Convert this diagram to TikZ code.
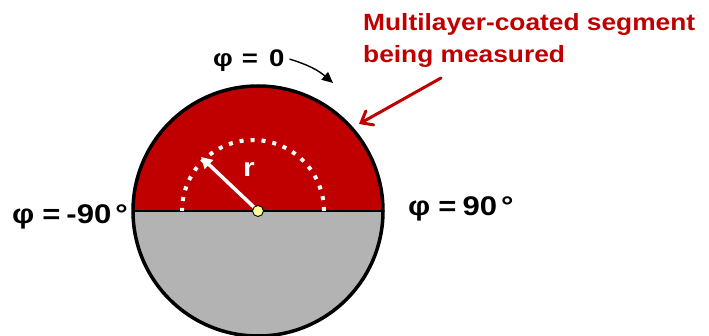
\documentclass[tikz,border=0pt]{standalone}
\usepackage{fontspec}
\setmainfont{Liberation Sans}[FakeStretch=1.15]
\newfontfamily\redfont{Liberation Sans}[FakeStretch=1.12]
\usetikzlibrary{arrows.meta,calc}
\definecolor{segred}{HTML}{C00000}
\definecolor{seggray}{HTML}{B3B3B3}
\definecolor{dotyellow}{HTML}{FFFF99}
\begin{document}
\begin{tikzpicture}[x=1pt,y=1pt,
  lbl/.style={font=\bfseries\fontsize{27}{30}\selectfont, inner sep=0pt},
  redlbl/.style={font=\redfont\bfseries\fontsize{23.5}{32}\selectfont, text=segred, align=left, inner sep=0pt}]
\useasboundingbox (0,0) rectangle (709,335);
\coordinate (c) at (258,124);
% halves
\fill[segred] (c) ++(125,0) arc (0:180:125) -- cycle;
\fill[seggray] (c) ++(-125,0) arc (180:360:125) -- cycle;
\draw[line width=1.6pt] ($(c)+(-125,0)$) -- ($(c)+(125,0)$);
\draw[line width=3.5pt] (c) circle (125);
% dotted arc
\draw[white, line width=4pt, dash pattern=on 4pt off 7pt] (253,124) ++(71,0) arc (0:180:71);
% radius arrow
\coordinate (rtip) at (201,178);
\draw[white, line width=3.5pt, -{Triangle[length=11pt,width=12pt]}] (c) -- (rtip);
\node[font=\bfseries\fontsize{26}{26}\selectfont, text=white] (r) at (249,166) {r};
\node[circle, fill=dotyellow, draw=black, line width=0.9pt, minimum size=11pt, inner sep=0pt] (ctr) at (c) {};
% labels
\node[font=\bfseries\fontsize{24}{26}\selectfont, inner sep=0pt, anchor=base west] (p0) at (213,268) {φ\hspace{9pt}=\hspace{11pt}0};
\coordinate (p0tip) at (333,252);
\draw[line width=1.4pt, -{Triangle[length=11pt,width=10pt]}] (p0.east) ++(5,2) to[bend left=12] (p0tip);
\node[lbl, anchor=base east] (pm90) at (128,112) {φ\hspace{8pt}=\hspace{6pt}-90\hspace{4pt}°};
\node[lbl, anchor=base west] (pp90) at (408,120) {φ\hspace{8pt}=\hspace{6pt}90\hspace{4pt}°};
\node[redlbl, anchor=base west] (seg) at (363,272) {Multilayer-coated segment\\being measured};
\coordinate (segtail) at (441,257);
\coordinate (segtip) at (359,211);
\draw[segred, line width=3pt, line cap=round, -{Straight Barb[length=10pt,width=16pt,line cap=round]}] (segtail) -- (segtip);
\end{tikzpicture}
\end{document}
